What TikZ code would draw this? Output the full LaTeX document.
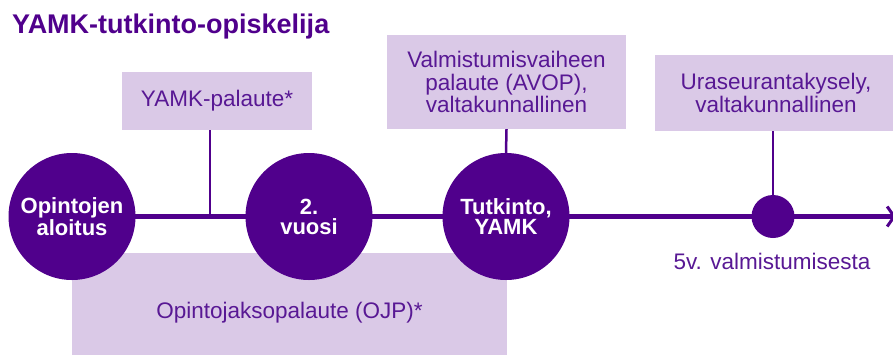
\documentclass[tikz,border=0pt]{standalone}
\usepackage{fontspec}
\setmainfont{Liberation Sans}
\usetikzlibrary{arrows.meta,backgrounds}
\definecolor{dpurple}{RGB}{80,0,140}
\definecolor{lpurple}{RGB}{218,201,231}
\definecolor{tpurple}{RGB}{88,24,148}
\begin{document}
\begin{tikzpicture}[x=1pt,y=-1pt,
  milestone/.style={circle,fill=dpurple,text=white,minimum size=127pt,inner sep=0pt,align=center,font=\fontsize{22}{20}\selectfont\bfseries},
  smalldot/.style={circle,fill=dpurple,minimum size=43pt,inner sep=0pt},
  feedbox/.style={fill=lpurple,text=tpurple,align=center,inner sep=0pt,font=\fontsize{22.5}{22.5}\selectfont},
  link/.style={draw=dpurple,line width=2.5pt},
  mainline/.style={draw=dpurple,line width=5pt}]
\useasboundingbox (0,0) rectangle (893,354);
\node[anchor=base west,text=dpurple,font=\fontsize{27}{30}\selectfont\bfseries,inner sep=0pt] (title) at (12,33) {YAMK-tutkinto-opiskelija};

\node[feedbox,minimum width=190pt,minimum height=58pt] (b1) at (217,101) {YAMK-palaute*};
\node[feedbox,minimum width=239pt,minimum height=94pt] (b2) at (506.5,82) {Valmistumisvaiheen\\palaute (AVOP),\\valtakunnallinen};
\node[feedbox,minimum width=242pt,minimum height=76pt] (b3) at (776,93) {Uraseurantakysely,\\valtakunnallinen};
\node[feedbox,minimum width=435pt,minimum height=120pt] (b4) at (289.5,313) {Opintojaksopalaute (OJP)*};

\node[milestone] (c1) at (72,216.5) {Opintojen\\aloitus};
\node[milestone] (c2) at (309,216.5) {2.\\vuosi};
\node[milestone] (c3) at (506,216.5) {Tutkinto,\\YAMK};
\node[smalldot] (c4) at (773,216.5) {};
\node[text=tpurple,font=\fontsize{22.5}{22.5}\selectfont,anchor=base,inner sep=0pt] (lbl) at (772,269) {5v. valmistumisesta};

\coordinate (j1) at (210,216.5);
\coordinate (tail) at (896,216.5);

\draw[link] (j1 |- b1.south) -- (j1);
\draw[link] (b2.south) -- (c3.north);
\draw[link] (b3.south -| c4) -- (c4.north);

\begin{scope}[on background layer]
\draw[mainline,-{Straight Barb[length=7pt,width=20pt,line width=3pt]}] (c1.center) -- (tail);
\end{scope}
\end{tikzpicture}
\end{document}
